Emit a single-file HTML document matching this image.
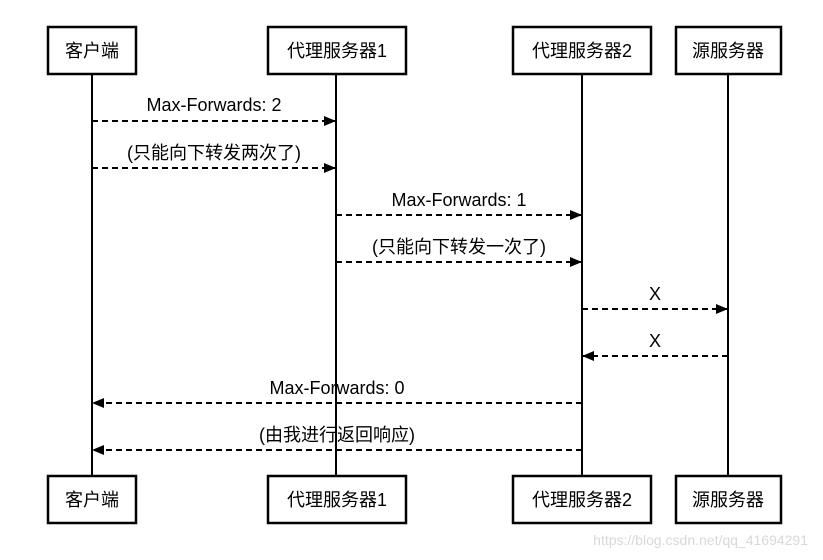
<!DOCTYPE html>
<html><head><meta charset="utf-8"><style>
html,body{margin:0;padding:0;background:#fff;}
svg text{font-family:"Liberation Sans","Noto Sans CJK SC",sans-serif;font-size:18px;fill:#000;}
</style></head><body>
<svg width="823" height="555" viewBox="0 0 823 555" xmlns="http://www.w3.org/2000/svg">
<defs>
<marker id="a" markerWidth="12" markerHeight="10" refX="12" refY="5" orient="auto" markerUnits="userSpaceOnUse"><path d="M0,0 L12,5 L0,10 z" fill="#000"/></marker>
</defs>
<g stroke="#000" stroke-width="2">
<line x1="92" y1="74" x2="92" y2="476"/>
<line x1="336" y1="74" x2="336" y2="476"/>
<line x1="582" y1="74" x2="582" y2="476"/>
<line x1="728" y1="74" x2="728" y2="476"/>
</g>
<g fill="#fff" stroke="#000" stroke-width="2.5">
<rect x="48" y="27" width="88" height="47"/>
<rect x="268" y="27" width="138" height="47"/>
<rect x="513" y="27" width="138" height="47"/>
<rect x="676" y="27" width="105" height="47"/>
<rect x="48" y="476" width="88" height="47"/>
<rect x="268" y="476" width="138" height="47"/>
<rect x="513" y="476" width="138" height="47"/>
<rect x="676" y="476" width="105" height="47"/>
</g>
<g text-anchor="middle">
<text x="92" y="57">客户端</text>
<text x="337" y="57">代理服务器1</text>
<text x="582" y="57">代理服务器2</text>
<text x="728" y="57">源服务器</text>
<text x="92" y="506">客户端</text>
<text x="337" y="506">代理服务器1</text>
<text x="582" y="506">代理服务器2</text>
<text x="728" y="506">源服务器</text>
</g>
<g stroke="#000" stroke-width="2" stroke-dasharray="6,4" marker-end="url(#a)">
<line x1="92" y1="121" x2="336" y2="121"/>
<line x1="92" y1="168" x2="336" y2="168"/>
<line x1="336" y1="215" x2="582" y2="215"/>
<line x1="336" y1="262" x2="582" y2="262"/>
<line x1="582" y1="309" x2="728" y2="309"/>
<line x1="728" y1="356" x2="582" y2="356"/>
<line x1="582" y1="403" x2="92" y2="403"/>
<line x1="582" y1="450" x2="92" y2="450"/>
</g>
<g text-anchor="middle">
<text x="214" y="111">Max-Forwards: 2</text>
<text x="214" y="159">(只能向下转发两次了)</text>
<text x="459" y="206">Max-Forwards: 1</text>
<text x="459" y="253">(只能向下转发一次了)</text>
<text x="655" y="300">X</text>
<text x="655" y="347">X</text>
<text x="337" y="394">Max-Forwards: 0</text>
<text x="337" y="441">(由我进行返回响应)</text>
</g>
<text x="808" y="545" text-anchor="end" style="font-size:14px;fill:#d8d8d8;">https://blog.csdn.net/qq_41694291</text>
</svg>
</body></html>
